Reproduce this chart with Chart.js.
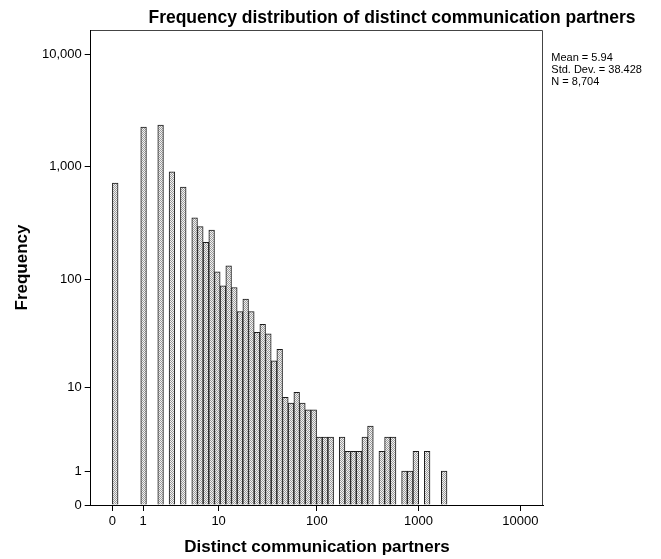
<!DOCTYPE html>
<html>
<head>
<meta charset="utf-8">
<title>Distinct communication partners</title>
<script src="https://cdn.jsdelivr.net/npm/chart.js@4.4.1/dist/chart.umd.min.js"></script>
<style>
  html, body { margin: 0; padding: 0; background: #ffffff; }
  canvas { display: block; }
</style>
</head>
<body>
<canvas id="chart" width="661" height="559"></canvas>
<script>
// Histogram of distinct communication partners; bins are equal-width on log10(partners + 1)
const BIN_WIDTH = 0.0556;  // one bin, in log10(partners + 1) units

// Frequency per bin, starting at partners = 0 (null = empty bin)
const binFrequency = [
  715, null, null, null, null, 2250, null, null, 2340, null,
  900, null, 660, null, 352, 293, 213, 274, 116, 87,
  131, 84, 51, 66, 51, 33, 39, 32, 18, 23,
  8, 7, 9, 7, 6, 6, 3, 3, 3, null,
  3, 2, 2, 2, 3, 4, null, 2, 3, 3,
  null, 1, 1, 2, null, 2, null, null, 1
];

const xTickValues = [0, 1, 10, 100, 1000, 10000];
const xTickLabels = ['0', '1', '10', '100', '1000', '10000'];
const yTickValues = [0, 1, 10, 100, 1000, 10000];
const yTickLabels = ['0', '1', '10', '100', '1,000', '10,000'];

const statsLines = ['Mean = 5.94', 'Std. Dev. = 38.428', 'N = 8,704'];
const chartTitle = 'Frequency distribution of distinct communication partners';
const xTitle = 'Distinct communication partners';
const yTitle = 'Frequency';

// both axes use a log10(v + 1) transform so that zero can be shown
const lg = v => Math.log10(v + 1);

const X_MIN = -0.2127, X_MAX = 4.2245;
const Y_MIN = 0, Y_MAX = 4.213;

const FAMILY = '"Liberation Sans", Arial, Helvetica, sans-serif';

const canvas = document.getElementById('chart');
const ctx = canvas.getContext('2d');

// fine stippled fill for the bars
function stipple() {
  const tile = document.createElement('canvas');
  tile.width = 2; tile.height = 2;
  const g = tile.getContext('2d');
  g.fillStyle = '#f2f2f2';
  g.fillRect(0, 0, 2, 2);
  g.fillStyle = '#9c9c9c';
  g.fillRect(0, 0, 1, 1);
  g.fillRect(1, 1, 1, 1);
  return ctx.createPattern(tile, 'repeat');
}

const points = binFrequency.map((f, k) => ({
  x: (k + 0.5) * BIN_WIDTH,
  y: f == null ? null : lg(f)
}));

// plot frame, title and summary statistics
const decorations = {
  id: 'decorations',
  afterDraw(chart) {
    const c = chart.ctx;
    const a = chart.chartArea;
    c.save();
    c.strokeStyle = '#444444';
    c.lineWidth = 1;
    c.beginPath();
    const top = Math.round(a.top) + 0.5;
    const right = Math.round(a.right) - 0.5;
    c.moveTo(Math.round(a.left), top);
    c.lineTo(right, top);
    c.lineTo(right, Math.round(a.bottom));
    c.stroke();

    c.fillStyle = '#000000';
    c.font = 'bold 17.5px ' + FAMILY;
    c.textAlign = 'center';
    c.textBaseline = 'middle';
    c.fillText(chartTitle, 392, 18);

    c.font = '11px ' + FAMILY;
    c.textAlign = 'left';
    statsLines.forEach((line, i) => c.fillText(line, a.right + 8, 58 + i * 12));
    c.restore();
  }
};

const tickFont = { family: FAMILY, size: 13 };
const titleFont = { family: FAMILY, size: 17, weight: 'bold' };

new Chart(ctx, {
  type: 'bar',
  data: {
    datasets: [{
      data: points,
      backgroundColor: stipple(),
      borderColor: '#1a1a1a',
      borderWidth: 1,
      borderSkipped: 'bottom',
      barPercentage: 1,
      categoryPercentage: 1
    }]
  },
  options: {
    responsive: false,
    animation: false,
    events: [],
    layout: { padding: { left: 11.8, right: 117.7, top: 30, bottom: 1 } },
    plugins: { legend: { display: false }, tooltip: { enabled: false }, title: { display: false } },
    scales: {
      x: {
        type: 'linear',
        min: X_MIN,
        max: X_MAX,
        offset: false,
        afterBuildTicks: s => { s.ticks = xTickValues.map(v => ({ value: lg(v) })); },
        afterFit: s => { s.height = 53; },
        ticks: {
          callback: (v, i) => xTickLabels[i],
          font: tickFont, color: '#000000', padding: 3,
          autoSkip: false, maxRotation: 0
        },
        grid: { display: true, drawOnChartArea: false, drawTicks: true, tickLength: 6, tickColor: '#000000', offset: false },
        border: { display: true, color: '#000000', width: 1 },
        title: { display: true, text: xTitle, font: titleFont, color: '#000000', padding: 0 }
      },
      y: {
        type: 'linear',
        min: Y_MIN,
        max: Y_MAX,
        afterBuildTicks: s => { s.ticks = yTickValues.map(v => ({ value: lg(v) })); },
        afterFit: s => { s.width = 78.9; },
        ticks: {
          callback: (v, i) => yTickLabels[i],
          font: tickFont, color: '#000000', padding: 3, autoSkip: false
        },
        grid: { display: true, drawOnChartArea: false, drawTicks: true, tickLength: 6, tickColor: '#000000' },
        border: { display: true, color: '#000000', width: 1 },
        title: { display: true, text: yTitle, font: titleFont, color: '#000000', padding: 0 }
      }
    }
  },
  plugins: [decorations]
});
</script>
</body>
</html>
